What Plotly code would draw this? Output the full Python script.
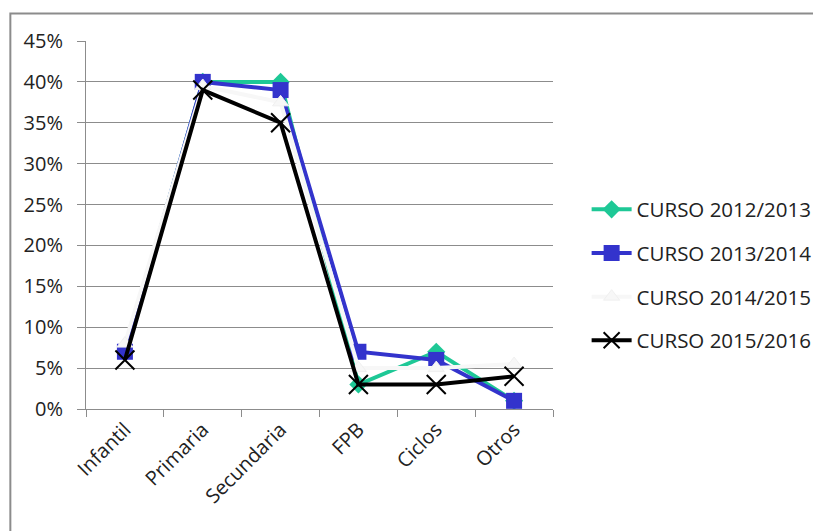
import plotly.graph_objects as go

categorias = ["Infantil", "Primaria", "Secundaria", "FPB", "Ciclos", "Otros"]
curso_2012_2013 = [0.07, 0.40, 0.40, 0.03, 0.07, 0.01]
curso_2013_2014 = [0.07, 0.40, 0.39, 0.07, 0.06, 0.01]
curso_2014_2015 = [0.08, 0.395, 0.375, 0.05, 0.05, 0.055]
curso_2015_2016 = [0.06, 0.39, 0.35, 0.03, 0.03, 0.04]

fuente = "Open Sans"
gris = "#8c8c8c"

fig = go.Figure()
fig.add_trace(go.Scatter(x=categorias, y=curso_2012_2013, name="CURSO 2012/2013",
                         mode="lines+markers", legendgroup="a",
                         line=dict(color="#1ec896", width=4),
                         marker=dict(symbol="diamond", size=14, color="#1ec896")))
fig.add_trace(go.Scatter(x=categorias, y=curso_2013_2014, name="CURSO 2013/2014",
                         mode="lines+markers", legendgroup="b",
                         line=dict(color="#3333cc", width=4),
                         marker=dict(symbol="square", size=16, color="#3333cc")))
fig.add_trace(go.Scatter(x=categorias, y=curso_2014_2015, name="CURSO 2014/2015",
                         mode="lines+markers", legendgroup="c",
                         line=dict(color="#f7f7f7", width=4),
                         marker=dict(symbol="triangle-up", size=14, color="#f7f7f7",
                                     line=dict(color="#f0f0f0", width=1))))
fig.add_trace(go.Scatter(x=categorias, y=curso_2015_2016, name="CURSO 2015/2016",
                         mode="lines+markers", legendgroup="d",
                         line=dict(color="black", width=4),
                         marker=dict(symbol="x-thin", size=19, color="black",
                                     line=dict(color="black", width=2))))

fig.update_layout(
    width=821, height=531,
    margin=dict(l=78, r=274, t=33, b=130),
    plot_bgcolor="white", paper_bgcolor="white",
    font=dict(family=fuente, size=20, color="#222222"),
    legend=dict(x=1.072, y=0.364, xanchor="left", yanchor="middle",
                tracegroupgap=14, font=dict(size=20.5), itemwidth=40),
    shapes=[dict(type="rect", xref="paper", yref="paper",
                 x0=-0.162, x1=2.0, y0=-0.6, y1=1.075,
                 line=dict(color=gris, width=2))],
)
fig.update_xaxes(type="category", showline=True, linecolor=gris, linewidth=1,
                 ticks="outside", tickson="boundaries", ticklen=7, tickcolor=gris,
                 tickangle=-45, showgrid=False, range=[-0.5, 5.5])
fig.update_yaxes(range=[0, 0.45], dtick=0.05, tickformat=".0%", showline=True,
                 linecolor=gris, linewidth=1, ticks="outside", ticklen=8, tickcolor=gris,
                 showgrid=True, gridcolor=gris, gridwidth=1, zeroline=False,
                 ticklabelstandoff=10)

fig.write_html("out.html")
